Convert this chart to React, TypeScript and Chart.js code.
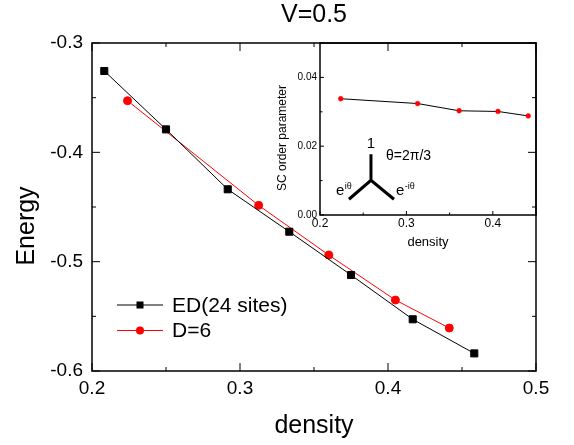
import React, { useEffect, useRef } from 'react';
import { Chart, registerables } from 'chart.js';

Chart.register(...registerables);

const FONT = "'Liberation Sans', Arial, Helvetica, sans-serif";

// ---- data ----
const edDensity = [0.2083, 0.25, 0.2917, 0.3333, 0.375, 0.4167, 0.4583];
const edEnergy = [-0.3256, -0.379, -0.4338, -0.4726, -0.5122, -0.5527, -0.5839];
const dmrgDensity = [0.224, 0.3126, 0.36, 0.405, 0.4414];
const dmrgEnergy = [-0.3528, -0.4485, -0.494, -0.5351, -0.5607];
const scDensity = [0.224, 0.313, 0.361, 0.406, 0.441];
const scOrder = [0.0338, 0.0324, 0.0303, 0.0301, 0.0288];

// ---- ticks ----
const mainXMajor = [0.2, 0.3, 0.4, 0.5];
const mainXMinor = [0.25, 0.35, 0.45];
const mainYMajor = [-0.6, -0.5, -0.4, -0.3];
const mainYMinor = [-0.55, -0.45, -0.35];
const insetXMajor = [0.2, 0.3, 0.4];
const insetXMinor = [0.25, 0.35, 0.45];
const insetYMajor = [0, 0.02, 0.04];
const insetYMinor = [0.01, 0.03, 0.05];

const seriesLabels = ['ED(24 sites)', 'D=6'];

function framePlugin(id: string, xMaj: number[], xMin: number[], yMaj: number[], yMin: number[], majLen: number, minLen: number, allSides: boolean, lw: number) {
  return {
    id,
    afterDraw(chart: any) {
      const { ctx, chartArea } = chart;
      const { left, right, top, bottom } = chartArea;
      const xs = chart.scales.x;
      const ys = chart.scales.y;
      ctx.save();
      ctx.strokeStyle = '#000';
      ctx.lineWidth = lw;
      ctx.strokeRect(left, top, right - left, bottom - top);
      ctx.lineWidth = 1;
      ctx.beginPath();
      const xt = (vals: number[], len: number) => {
        vals.forEach((v) => {
          const p = xs.getPixelForValue(v);
          ctx.moveTo(p, bottom);
          ctx.lineTo(p, bottom - len);
          if (allSides) {
            ctx.moveTo(p, top);
            ctx.lineTo(p, top + len);
          }
        });
      };
      const yt = (vals: number[], len: number) => {
        vals.forEach((v) => {
          const p = ys.getPixelForValue(v);
          ctx.moveTo(left, p);
          ctx.lineTo(left + len, p);
          if (allSides) {
            ctx.moveTo(right, p);
            ctx.lineTo(right - len, p);
          }
        });
      };
      xt(xMaj, majLen);
      xt(xMin, minLen);
      yt(yMaj, majLen);
      yt(yMin, minLen);
      ctx.stroke();
      ctx.restore();
    },
  };
}

function rotatedTitle(ctx: any, text: string, x: number, y: number, size: number) {
  ctx.save();
  ctx.translate(x, y);
  ctx.rotate(-Math.PI / 2);
  ctx.fillStyle = '#000';
  ctx.font = `${size}px ${FONT}`;
  ctx.textAlign = 'center';
  ctx.textBaseline = 'middle';
  ctx.fillText(text, 0, 0);
  ctx.restore();
}

const titlePlugin = {
  id: 'mainTitle',
  afterDraw(chart: any) {
    const { ctx, chartArea } = chart;
    ctx.save();
    ctx.fillStyle = '#000';
    ctx.font = `25px ${FONT}`;
    ctx.textAlign = 'center';
    ctx.textBaseline = 'alphabetic';
    ctx.fillText('V=0.5', (chartArea.left + chartArea.right) / 2, 22);
    ctx.restore();
    rotatedTitle(ctx, 'Energy', 27, (chartArea.top + chartArea.bottom) / 2 + 19, 25);
  },
};

const legendPlugin = {
  id: 'innerLegend',
  afterDraw(chart: any) {
    const { ctx, chartArea } = chart;
    const x0 = chartArea.left + 25;
    const y0 = chartArea.top + 262;
    ctx.save();
    chart.data.datasets.forEach((ds: any, i: number) => {
      const y = y0 + i * 25.5;
      ctx.strokeStyle = ds.borderColor;
      ctx.lineWidth = 1;
      ctx.beginPath();
      ctx.moveTo(x0, y);
      ctx.lineTo(x0 + 46, y);
      ctx.stroke();
      ctx.fillStyle = ds.backgroundColor;
      const mx = x0 + 23;
      if (ds.pointStyle === 'rect') {
        ctx.fillRect(mx - 3.5, y - 3.5, 7, 7);
      } else {
        ctx.beginPath();
        ctx.arc(mx, y, 4, 0, Math.PI * 2);
        ctx.fill();
      }
      ctx.fillStyle = '#000';
      ctx.font = `21px ${FONT}`;
      ctx.textAlign = 'left';
      ctx.textBaseline = 'middle';
      ctx.fillText(ds.label, x0 + 55, y + 1);
    });
    ctx.restore();
  },
};

const diagramAnchor = { x: 0.259, y: 0.0101 };

const diagramPlugin = {
  id: 'diagram',
  afterDraw(chart: any) {
    const { ctx, chartArea } = chart;
    rotatedTitle(ctx, 'SC order parameter', 33, (chartArea.top + chartArea.bottom) / 2 + 9, 12);
    const cx = chart.scales.x.getPixelForValue(diagramAnchor.x);
    const cy = chart.scales.y.getPixelForValue(diagramAnchor.y);
    ctx.save();
    ctx.strokeStyle = '#000';
    ctx.lineWidth = 3;
    ctx.beginPath();
    ctx.moveTo(cx, cy - 26);
    ctx.lineTo(cx, cy);
    ctx.moveTo(cx - 22, cy + 19);
    ctx.lineTo(cx, cy);
    ctx.lineTo(cx + 23, cy + 19);
    ctx.stroke();
    ctx.fillStyle = '#000';
    ctx.textBaseline = 'alphabetic';
    ctx.textAlign = 'center';
    ctx.font = `15px ${FONT}`;
    ctx.fillText('1', cx, cy - 32);
    ctx.textAlign = 'left';
    ctx.font = `14px ${FONT}`;
    ctx.fillText('θ=2π/3', cx + 15, cy - 20);
    ctx.font = `15px ${FONT}`;
    ctx.fillText('e', cx - 35, cy + 15);
    const ew = ctx.measureText('e').width;
    ctx.fillText('e', cx + 25, cy + 15);
    ctx.font = `9px ${FONT}`;
    ctx.fillText('iθ', cx - 35 + ew + 0.5, cy + 9);
    ctx.fillText('-iθ', cx + 25 + ew + 0.5, cy + 9);
    ctx.restore();
  },
};

function pts(xs: number[], ys: number[]) {
  return xs.map((x, i) => ({ x, y: ys[i] }));
}

export default function App() {
  const mainRef = useRef<HTMLCanvasElement>(null);
  const insetRef = useRef<HTMLCanvasElement>(null);

  useEffect(() => {
    const main = new Chart(mainRef.current as HTMLCanvasElement, {
      type: 'line',
      data: {
        datasets: [
          {
            label: seriesLabels[0],
            data: pts(edDensity, edEnergy),
            borderColor: '#000000',
            backgroundColor: '#000000',
            borderWidth: 1,
            pointStyle: 'rect',
            pointRadius: 5,
            pointBorderWidth: 1,
            tension: 0,
          },
          {
            label: seriesLabels[1],
            data: pts(dmrgDensity, dmrgEnergy),
            borderColor: '#ff0000',
            backgroundColor: '#ff0000',
            borderWidth: 1,
            pointStyle: 'circle',
            pointRadius: 4,
            pointBorderWidth: 1,
            tension: 0,
          },
        ],
      },
      options: {
        animation: false,
        responsive: false,
        maintainAspectRatio: false,
        layout: { padding: { top: 43, right: 38, left: 0, bottom: 0 } },
        plugins: { legend: { display: false }, tooltip: { enabled: false }, title: { display: false } },
        scales: {
          x: {
            type: 'linear',
            min: 0.2,
            max: 0.5,
            grid: { display: false, drawTicks: false },
            border: { display: false },
            afterBuildTicks: (s: any) => {
              s.ticks = mainXMajor.map((v) => ({ value: v }));
            },
            afterFit: (s: any) => {
              s.height = 74;
            },
            ticks: {
              font: { family: FONT, size: 19 },
              color: '#000',
              padding: 6,
              maxRotation: 0,
              autoSkip: false,
              callback: (v: any) => Number(v).toFixed(1),
            },
            title: {
              display: true,
              text: 'density',
              font: { family: FONT, size: 25 },
              color: '#000',
              padding: { top: 0, bottom: 4 },
            },
          },
          y: {
            type: 'linear',
            min: -0.6,
            max: -0.3,
            grid: { display: false, drawTicks: false },
            border: { display: false },
            afterBuildTicks: (s: any) => {
              s.ticks = mainYMajor.map((v) => ({ value: v }));
            },
            afterFit: (s: any) => {
              s.width = 92;
            },
            ticks: {
              font: { family: FONT, size: 19 },
              color: '#000',
              padding: 9,
              autoSkip: false,
              callback: (v: any) => Number(v).toFixed(1),
            },
            title: { display: false },
          },
        },
      },
      plugins: [framePlugin('mainFrame', mainXMajor, mainXMinor, mainYMajor, mainYMinor, 8, 4, true, 1.5), titlePlugin, legendPlugin],
    } as any);

    const inset = new Chart(insetRef.current as HTMLCanvasElement, {
      type: 'line',
      data: {
        datasets: [
          {
            label: 'SC order parameter',
            data: pts(scDensity, scOrder),
            borderColor: '#000000',
            borderWidth: 1,
            pointStyle: 'circle',
            pointRadius: 2.4,
            pointBorderWidth: 0.5,
            pointBackgroundColor: '#ff0000',
            pointBorderColor: '#ff0000',
            tension: 0,
          },
        ],
      },
      options: {
        animation: false,
        responsive: false,
        maintainAspectRatio: false,
        layout: { padding: { top: 43, right: 38, left: 0, bottom: 0 } },
        plugins: { legend: { display: false }, tooltip: { enabled: false }, title: { display: false } },
        scales: {
          x: {
            type: 'linear',
            min: 0.2,
            max: 0.45,
            grid: { display: false, drawTicks: false },
            border: { display: false },
            afterBuildTicks: (s: any) => {
              s.ticks = insetXMajor.map((v) => ({ value: v }));
            },
            afterFit: (s: any) => {
              s.height = 55;
            },
            ticks: {
              font: { family: FONT, size: 12 },
              color: '#000',
              padding: 1,
              maxRotation: 0,
              autoSkip: false,
              callback: (v: any) => Number(v).toFixed(1),
            },
            title: {
              display: true,
              text: 'density',
              font: { family: FONT, size: 13 },
              color: '#000',
              padding: { top: 0, bottom: 20 },
            },
          },
          y: {
            type: 'linear',
            min: 0,
            max: 0.05,
            grid: { display: false, drawTicks: false },
            border: { display: false },
            afterBuildTicks: (s: any) => {
              s.ticks = insetYMajor.map((v) => ({ value: v }));
            },
            afterFit: (s: any) => {
              s.width = 70;
            },
            ticks: {
              font: { family: FONT, size: 10 },
              color: '#000',
              padding: 3,
              autoSkip: false,
              callback: (v: any) => Number(v).toFixed(2),
            },
            title: { display: false },
          },
        },
      },
      plugins: [framePlugin('insetFrame', insetXMajor, insetXMinor, insetYMajor, insetYMinor, 4, 2.5, false, 1.5), diagramPlugin],
    } as any);

    return () => {
      main.destroy();
      inset.destroy();
    };
  }, []);

  return (
    <div style={{ position: 'absolute', left: 0, top: 0, width: 574, height: 445, background: '#fff' }}>
      <canvas ref={mainRef} width={574} height={445} style={{ position: 'absolute', left: 0, top: 0, width: 574, height: 445 }} />
      <canvas ref={insetRef} width={324} height={270} style={{ position: 'absolute', left: 250, top: 0, width: 324, height: 270 }} />
    </div>
  );
}
